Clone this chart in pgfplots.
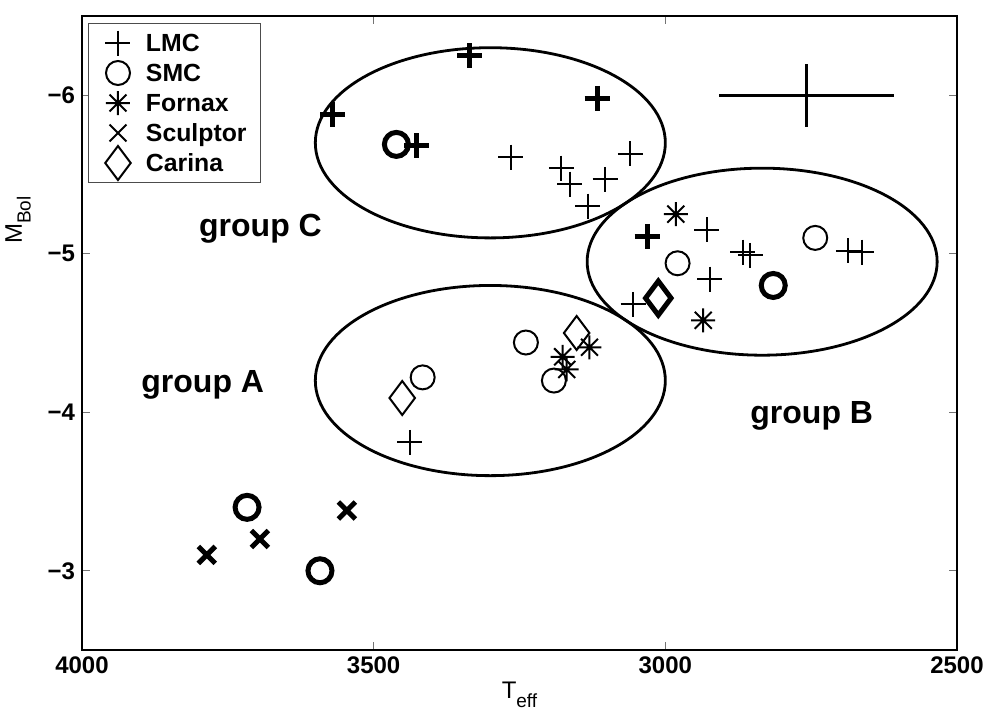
\documentclass[border=0pt]{standalone}
\usepackage{fontspec}
\setmainfont{Liberation Sans}
\usepackage{pgfplots}
\pgfplotsset{compat=1.18}

% eight-armed star, like the Fornax symbol
\pgfdeclareplotmark{star8}{%
  \pgfpathmoveto{\pgfqpoint{0pt}{\pgfplotmarksize}}%
  \pgfpathlineto{\pgfqpoint{0pt}{-\pgfplotmarksize}}%
  \pgfpathmoveto{\pgfqpoint{\pgfplotmarksize}{0pt}}%
  \pgfpathlineto{\pgfqpoint{-\pgfplotmarksize}{0pt}}%
  \pgfpathmoveto{\pgfqpoint{.7071\pgfplotmarksize}{.7071\pgfplotmarksize}}%
  \pgfpathlineto{\pgfqpoint{-.7071\pgfplotmarksize}{-.7071\pgfplotmarksize}}%
  \pgfpathmoveto{\pgfqpoint{-.7071\pgfplotmarksize}{.7071\pgfplotmarksize}}%
  \pgfpathlineto{\pgfqpoint{.7071\pgfplotmarksize}{-.7071\pgfplotmarksize}}%
  \pgfusepathqstroke}

\begin{document}
\begin{tikzpicture}
% fixed page: 984x717 px at 0.5pt per px
\useasboundingbox (-41pt,-33.5pt) rectangle (451pt,325pt);
\begin{axis}[
    at={(0,0)}, anchor=south west,
    scale only axis,
    width=437.5pt, height=317pt,
    x dir=reverse, y dir=reverse,
    xmin=2500, xmax=4000,
    ymin=-6.5, ymax=-2.5,
    xtick={2500,3000,3500,4000},
    xticklabels={2500,3000,3500,4000},
    ytick={-6,-5,-4,-3},
    yticklabels={−6,−5,−4,−3},
    tick align=inside,
    major tick length=4pt,
    tick style={black!55, line width=0.5pt},
    axis line style={line width=0.6pt},
    tick label style={font=\fontsize{12}{14}\selectfont\bfseries},
    every axis x label/.style={at={(axis description cs:0.5,-0.05)}, anchor=north, inner sep=0pt},
    every axis y label/.style={at={(axis description cs:-0.073,0.678)}, anchor=center, rotate=90, inner sep=0pt},
    label style={font=\fontsize{12}{14}\selectfont},
    xlabel={T\raisebox{-0.7ex}{\fontsize{9.5}{10}\selectfont eff}},
    ylabel={M\raisebox{-0.7ex}{\fontsize{9.5}{10}\selectfont Bol}},
    legend style={at={(axis description cs:0,1)}, anchor=north west,
        xshift=3pt, yshift=-3.5pt,
        draw=black!70, line width=0.5pt,
        inner xsep=0pt, inner ysep=2.25pt,
        font=\fontsize{12.4}{14}\selectfont\bfseries,
        nodes={inner xsep=0pt, inner ysep=0pt, text height=11.9pt, text depth=3.1pt}},
    legend cell align=left,
    legend image code/.code={\path[draw=none, fill=none] (-14.75pt,-3pt) rectangle (14pt,3pt);
        \draw[#1, overlay] plot coordinates {(0pt,0pt)};},
    clip=false,
]
% legend entries (normal weight markers)
\addlegendimage{only marks, mark=+, mark size=6.25pt, line width=1pt}
\addlegendentry{LMC}
\addlegendimage{only marks, mark=o, mark size=6pt, line width=1pt}
\addlegendentry{SMC}
\addlegendimage{only marks, mark=star8, mark size=6pt, line width=1pt}
\addlegendentry{Fornax}
\addlegendimage{only marks, mark=x, mark size=6pt, line width=1pt}
\addlegendentry{Sculptor\kern7pt}
\addlegendimage{only marks, mark=diamond, mark size=8.5pt, line width=1pt}
\addlegendentry{Carina}

% group ellipses
\draw[line width=1.4pt] (axis cs:3300,-5.7) ellipse [x radius=300, y radius=0.6];
\draw[line width=1.4pt] (axis cs:3300,-4.2) ellipse [x radius=300, y radius=0.6];
\draw[line width=1.4pt] (axis cs:2834,-4.95) ellipse [x radius=300, y radius=0.59];

% LMC
\addplot[only marks, mark=+, mark size=6.25pt, line width=1pt, forget plot] coordinates {
(3265,-5.61) (3178,-5.54) (3164,-5.44) (3103,-5.47) (3060,-5.63) (3133,-5.30)
(2929,-5.15) (2867,-5.01) (2854,-4.99) (2924,-4.84) (2686,-5.02) (2663,-5.01)
(3055,-4.68) (3438,-3.81)
};
\addplot[only marks, mark=+, mark size=6.25pt, line width=2.5pt, forget plot] coordinates {
(3335,-6.25) (3117,-5.98) (3570,-5.88) (3426,-5.68) (3031,-5.11)
};
% SMC
\addplot[only marks, mark=o, mark size=6pt, line width=1pt, forget plot] coordinates {
(2979,-4.94) (2743,-5.10) (3416,-4.22) (3239,-4.44) (3191,-4.20)
};
\addplot[only marks, mark=o, mark size=6pt, line width=2.5pt, forget plot] coordinates {
(3461,-5.69) (2815,-4.80) (3717,-3.40) (3592,-3.00)
};
% Fornax
\addplot[only marks, mark=star8, mark size=6pt, line width=1pt, forget plot] coordinates {
(2982,-5.25) (2935,-4.58) (3176,-4.35) (3169,-4.27) (3130,-4.41)
};
% Sculptor
\addplot[only marks, mark=x, mark size=6pt, line width=2.5pt, forget plot] coordinates {
(3786,-3.10) (3695,-3.20) (3546,-3.38)
};
% Carina
\addplot[only marks, mark=diamond, mark size=8.5pt, line width=1pt, forget plot] coordinates {
(3451,-4.09) (3152,-4.50)
};
\addplot[only marks, mark=diamond, mark size=8.5pt, line width=2.5pt, forget plot] coordinates {
(3012,-4.72)
};

% typical error
\addplot[draw=none, mark=none, forget plot,
    error bars/.cd, x dir=both, x explicit, y dir=both, y explicit,
    error mark=none, error bar style={line width=1.5pt, black}]
coordinates {(2758,-6) +- (150,0.2)};

% group labels
\node[font=\fontsize{16}{18}\selectfont\bfseries] at (axis cs:3694,-5.16) {group C};
\node[font=\fontsize{16}{18}\selectfont\bfseries] at (axis cs:3793,-4.17) {group A};
\node[font=\fontsize{16}{18}\selectfont\bfseries] at (axis cs:2749,-3.98) {group B};
\end{axis}
\end{tikzpicture}
\end{document}
